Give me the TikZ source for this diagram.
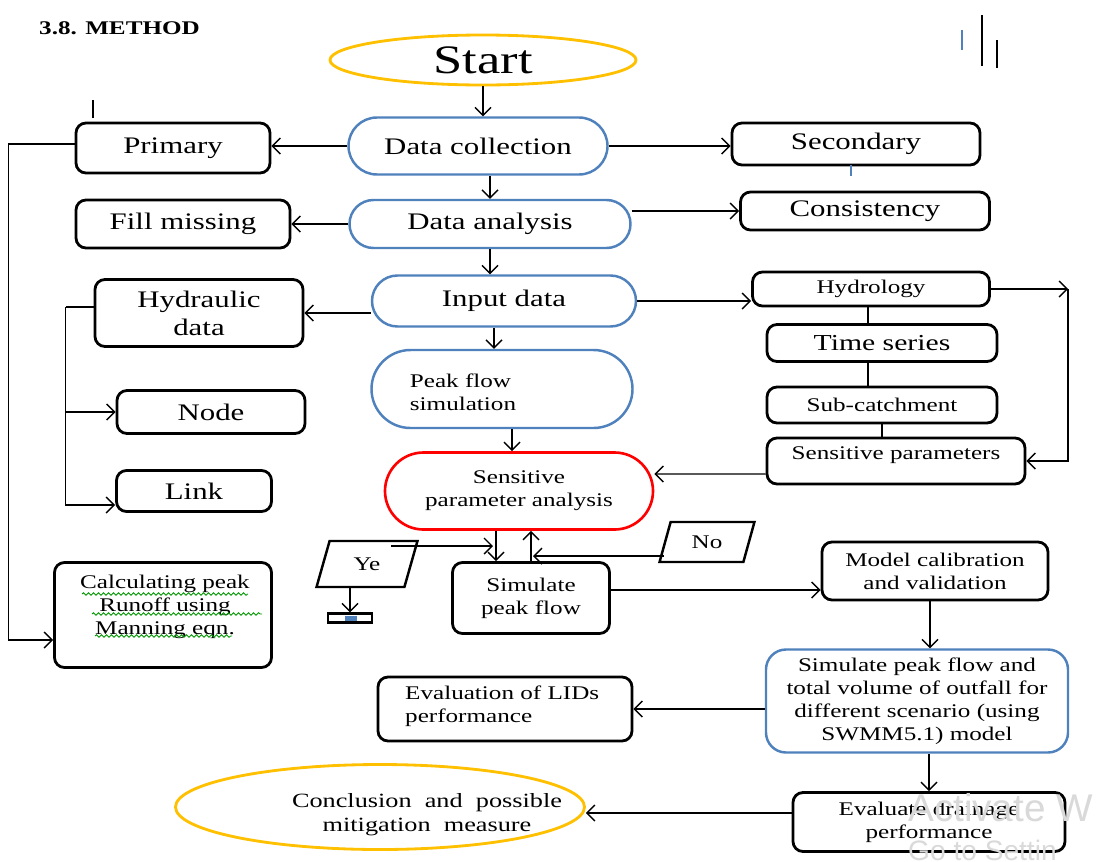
\documentclass[tikz,border=0pt]{standalone}
\usepackage{fontspec}
\setmainfont{Liberation Serif}
\newfontfamily\diagfont[FakeStretch=1.3]{Liberation Serif}
\newfontfamily\winfont{Liberation Sans}
\usepackage{xcolor}
\usepackage{tikz}
\usetikzlibrary{arrows.meta, positioning, calc, shapes.geometric, shapes.misc, decorations.pathmorphing}

\definecolor{ppblue}{RGB}{79,129,189}
\definecolor{ppyellow}{RGB}{255,192,0}
\definecolor{ppred}{RGB}{255,0,0}

\tikzset{
  base/.style={font=\diagfont\fontsize{13.5}{16}\selectfont, inner sep=0pt, align=center},
  smalltext/.style={font=\diagfont\fontsize{11}{13}\selectfont},
  sz/.style 2 args={minimum width=#1*0.2mm, minimum height=#2*0.2mm},
  blackbox/.style={base, draw=black, line width=1.6pt, rounded corners=2mm},
  bluebox/.style={base, draw=ppblue, line width=1.4pt, rounded corners=4mm},
  pill/.style={base, draw=ppblue, line width=1.4pt, rounded rectangle},
  redpill/.style={base, draw=ppred, line width=1.5pt, rounded rectangle},
  oval/.style={base, draw=ppyellow, line width=1.6pt, ellipse},
  slant/.style={base, draw, line width=1.4pt, trapezium, trapezium left angle=70,
    trapezium right angle=110, trapezium stretches=true},
  arr/.style={-{Straight Barb[length=1.6mm,width=3.2mm]}, line width=0.8pt},
  conn/.style={line width=0.8pt},
  squig/.style={draw=green!60!black, line width=0.5pt, decorate,
    decoration={snake, segment length=1mm, amplitude=0.25mm}},
}

\begin{document}
\begin{tikzpicture}[x=0.2mm, y=-0.2mm]
  \useasboundingbox (0,0) rectangle (1104,861);
  \fill[white] (0,0) rectangle (1104,861);
  \clip (0,0) rectangle (1104,861);

  \node[anchor=west, font=\diagfont\bfseries\fontsize{11}{13}\selectfont] (title) at (33,28) {3.8. METHOD};

  % main column
  \node[oval, sz={306}{50}, font=\diagfont\fontsize{23}{26}\selectfont] (start) at (483,60) {Start};
  \node[pill, sz={259}{57}] (dcol) at (478,146) {Data collection};
  \node[pill, sz={281}{48}] (dana) at (490,224) {Data analysis};
  \node[pill, sz={264}{51}] (inp) at (504,301) {Input data};
  \node[pill, sz={261}{78}] (peak) at (502,389) {};
  \node[smalltext, align=left] (peaklbl) at (463,392) {Peak flow\\simulation};
  \node[redpill, smalltext, sz={268}{77}] (sa) at (519,491) {Sensitive\\parameter analysis};
  \node[blackbox, smalltext, sz={157}{71}] (sim) at (531,598) {Simulate\\peak flow};
  \node[slant, smalltext, sz={101}{46}] (ye) at (367,564) {Ye};
  \node[slant, smalltext, sz={95}{40}] (no) at (707,542) {No};
  \node[draw, line width=1.2pt, sz={44}{9}, inner sep=0pt] (tray) at (350,618) {};
  \node[fill=ppblue, sz={12}{5}, inner sep=0pt] (traymark) at (351,618) {};

  % left side
  \node[blackbox, sz={194}{50}] (prim) at (173,148) {Primary};
  \node[blackbox, sz={214}{48}] (fill) at (183,224) {Fill missing};
  \node[blackbox, sz={208}{67}] (hyd) at (199,313) {Hydraulic\\data};
  \node[blackbox, sz={188}{43}] (nodebox) at (211,412) {Node};
  \node[blackbox, sz={155}{41}] (linkbox) at (194,491) {Link};
  \node[blackbox, sz={217}{105}] (calc) at (163,615) {};
  \node[smalltext, align=center] (calclbl) at (165,607) {Calculating peak\\Runoff using\\Manning eqn.};

  % right side
  \node[blackbox, sz={248}{42}] (sec) at (856,144) {Secondary};
  \node[blackbox, sz={249}{38}] (cons) at (865,211) {Consistency};
  \node[blackbox, smalltext, sz={237}{34}] (hydro) at (871,289) {Hydrology};
  \node[blackbox, font=\diagfont\fontsize{13}{15}\selectfont, sz={230}{37}] (tser) at (882,343) {Time series};
  \node[blackbox, smalltext, sz={230}{36}] (sub) at (882,405) {Sub-catchment};
  \node[blackbox, sz={258}{46}] (senspar) at (896,461) {};
  \node[smalltext] (sensparlbl) at (896,455) {Sensitive parameters};
  \node[blackbox, smalltext, sz={226}{58}] (mc) at (935,571) {Model calibration\\and validation};
  \node[bluebox, smalltext, sz={302}{103}] (stot) at (917,701) {Simulate peak flow and\\total volume of outfall for\\different scenario (using\\SWMM5.1) model};
  \node[blackbox, sz={254}{64}] (lids) at (505,709) {};
  \node[smalltext, align=left, anchor=west] (lidslbl) at (399,706) {Evaluation of LIDs\\performance};
  \node[blackbox, smalltext, sz={272}{59}] (evdr) at (929,822) {Evaluate drainage\\performance};
  \node[oval, sz={409}{85}] (concl) at (380,807) {};
  \node[align=center, font=\diagfont\fontsize{11.5}{13.5}\selectfont] (concllbl) at (427,815) {Conclusion\ \ and\ \ possible\\mitigation\ \ measure};

  % connectors
  \draw[arr] (start.south) -- (start.south |- dcol.north);
  \draw[arr] (dcol.west) -- (dcol.west -| prim.east);
  \draw[arr] (dcol.east) -- (dcol.east -| sec.west);
  \draw[arr] (dcol.south -| dana.north) -- (dana.north);
  \draw[arr] (dana.west) -- (dana.west -| fill.east);
  \draw[arr] (dana.east |- cons.west) -- (cons.west);
  \draw[arr] (dana.south) -- (dana.south |- inp.north);
  \draw[arr] (inp.west |- hyd.east) -- (hyd.east);
  \draw[arr] (inp.east) -- (inp.east -| hydro.west);
  \draw[arr] ($(inp.south)+(-10,0)$) -- ($(peak.north)+(-8,0)$);
  \draw[arr] ($(peak.south)+(10,0)$) -- ($(sa.north)+(-7,0)$);

  \coordinate (hc) at (1068,289);
  \draw[arr] (hydro.east) -- (hc);
  \draw[arr] (hc) |- (senspar.east);
  \draw[conn] ($(hydro.south)+(-3,0)$) -- ($(tser.north)+(-14,0)$);
  \draw[conn] ($(tser.south)+(-14,0)$) -- ($(sub.north)+(-14,0)$);
  \draw[conn] (sub.south) -- (sub.south |- senspar.north);
  \draw[arr] ([yshift=-2.6mm]senspar.west) -- ([yshift=3.4mm]sa.east);

  \draw[arr] ($(sa.south)+(-23,0)$) -- ($(sim.north)+(-35,0)$);
  \draw[arr] (sim.north) -- (sim.north |- sa.south);
  \coordinate (yeto) at (493,546);
  \coordinate (noto) at (533,556);
  \draw[arr] (ye.north east |- yeto) -- (yeto);
  \draw[arr] (no.west |- noto) -- (noto);
  \draw[arr] (ye.south -| tray.north) -- (tray.north);

  \draw[arr] ($(sim.east)+(0,-8)$) -- ($(mc.west)+(0,19)$);
  \draw[arr] ($(mc.south)+(-5,0)$) -- ($(stot.north)+(13,0)$);
  \draw[arr] (stot.west |- lids.east) -- (lids.east);
  \draw[arr] (stot.south -| evdr.north) -- (evdr.north);
  \draw[arr] ($(evdr.west)+(0,-9)$) -- ($(concl.east)+(0,6)$);

  \draw[arr] ($(prim.west)+(0,-4)$) -- ++(-66,0) |- ($(calc.west)+(0,25)$);
  \draw[conn] ($(hyd.west)+(0,-6)$) -- ++(-28,0) coordinate (hbus);
  \draw[arr] (hbus) |- (nodebox.west);
  \draw[arr] (hbus) |- ($(linkbox.west)+(0,14)$);

  % spell-check marks
  \draw[squig] (82,594) -- (248,594);
  \draw[squig] (92,614) -- (262,614);
  \draw[squig] (95,636) -- (232,636);

  % stray marks
  \draw[line width=1.5pt] (93,100) -- (93,118);
  \draw[ppblue, line width=1pt] (962,30) -- (962,50);
  \draw[line width=1pt] (982,15) -- (982,66);
  \draw[line width=1pt] (997,40) -- (997,68);
  \draw[ppblue, line width=1pt] (851,165) -- (851,176);

  \node[anchor=west, text=gray!30, font=\winfont\fontsize{22}{24}\selectfont] (wm1) at (902,808) {Activate W};
  \node[anchor=west, text=gray!30, font=\winfont\fontsize{16}{18}\selectfont] (wm2) at (902,850) {Go to Settin};
\end{tikzpicture}
\end{document}
